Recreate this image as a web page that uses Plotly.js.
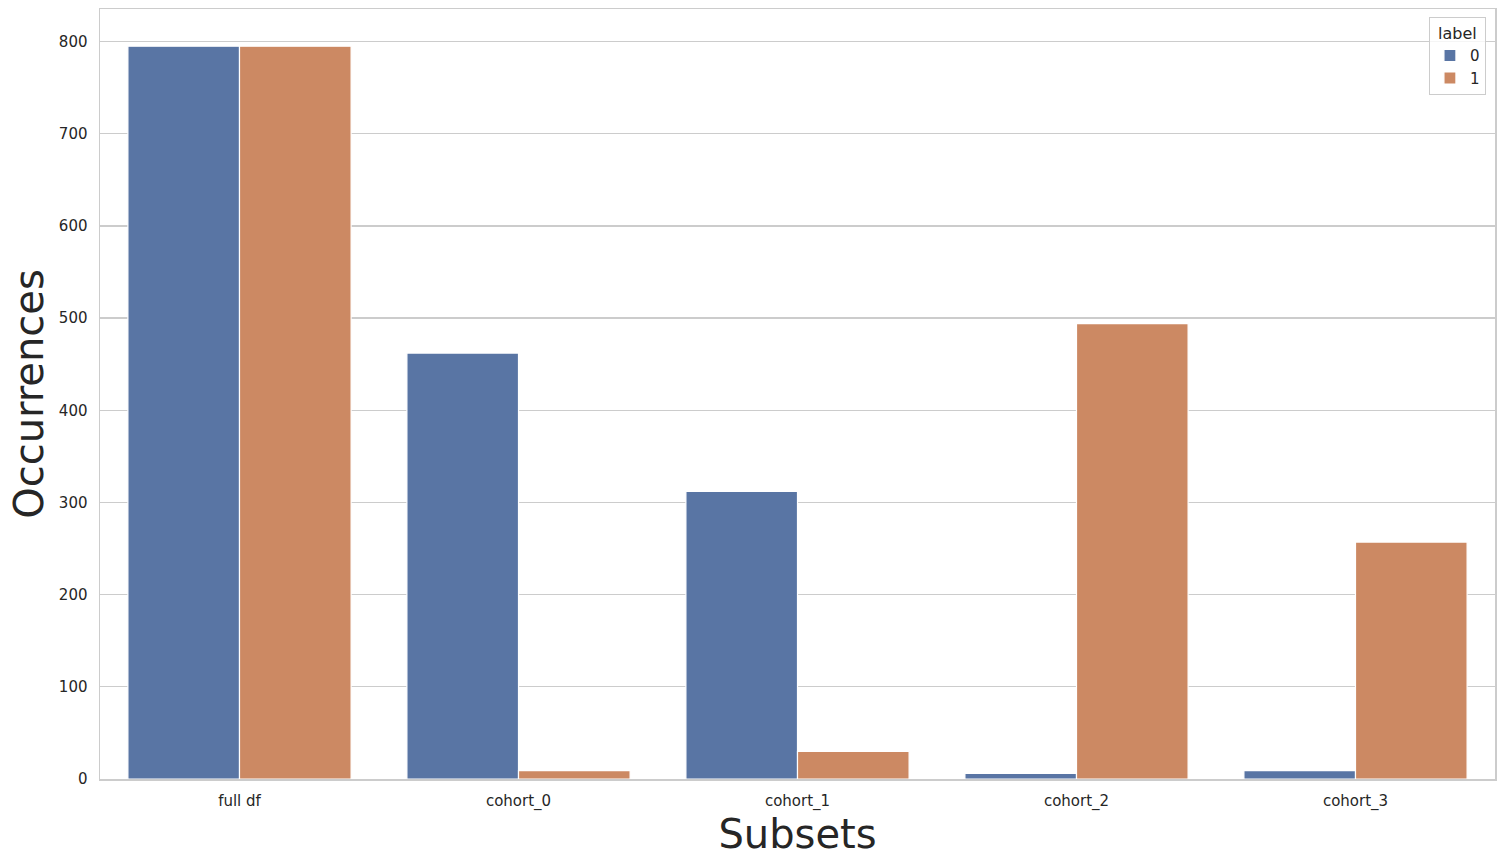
<!DOCTYPE html>
<html>
<head>
<meta charset="utf-8">
<script src="https://cdn.plot.ly/plotly-3.0.1.min.js"></script>
<style>html,body{margin:0;padding:0;background:#fff;}#chart{width:1504px;height:866px;}</style>
</head>
<body>
<div id="chart"></div>
<script>
const categories = ["full df", "cohort_0", "cohort_1", "cohort_2", "cohort_3"];
const label0 = [795, 462, 312, 6, 9];
const label1 = [795, 9, 30, 494, 257];
const yTicks = [0, 100, 200, 300, 400, 500, 600, 700, 800];

const font = "DejaVu Sans, sans-serif";
const data = [
  {type: "bar", name: "0", x: categories, y: label0,
   marker: {color: "#5975a4", line: {color: "#ffffff", width: 1.2}}},
  {type: "bar", name: "1", x: categories, y: label1,
   marker: {color: "#cc8963", line: {color: "#ffffff", width: 1.2}}}
];
const layout = {
  width: 1504, height: 866,
  margin: {l: 100, r: 9, t: 9, b: 87},
  paper_bgcolor: "#ffffff", plot_bgcolor: "#ffffff",
  font: {family: font, color: "#262626", size: 15},
  barmode: "group", bargap: 0.2, bargroupgap: 0,
  showlegend: true,
  legend: {
    title: {text: "label", font: {size: 16, color: "#262626"}, side: "top center"},
    x: 0.9935, y: 0.989, xanchor: "right", yanchor: "top",
    bgcolor: "rgba(255,255,255,0.8)", bordercolor: "#cccccc", borderwidth: 1,
    font: {size: 15, color: "#262626"}
  },
  xaxis: {
    type: "category", range: [-0.5, 4.5],
    showgrid: false, zeroline: false,
    showline: true, linecolor: "#cccccc", linewidth: 1.5, mirror: true,
    ticks: "", ticklen: 0, ticklabelstandoff: 7,
    tickfont: {size: 15, color: "#262626"},
    title: {text: "Subsets", font: {size: 40, color: "#262626"}, standoff: 10}
  },
  yaxis: {
    range: [0, 835.3],
    tickvals: yTicks, ticktext: yTicks.map(String),
    showgrid: true, gridcolor: "#cccccc", gridwidth: 1.2,
    zeroline: false,
    showline: true, linecolor: "#cccccc", linewidth: 1.5, mirror: true,
    ticks: "", ticklen: 0, ticklabelstandoff: 8,
    tickfont: {size: 15, color: "#262626"},
    title: {text: "Occurrences", font: {size: 40, color: "#262626"}, standoff: 3}
  }
};
Plotly.newPlot("chart", data, layout, {displayModeBar: false, staticPlot: true});
</script>
</body>
</html>
